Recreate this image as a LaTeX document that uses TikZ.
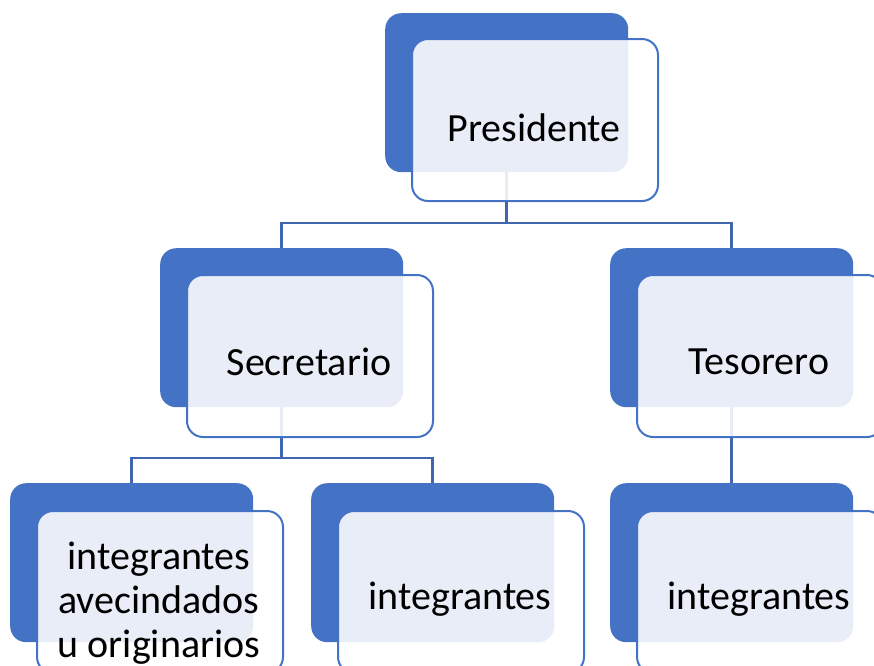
\documentclass[tikz,border=0pt]{standalone}
\usepackage{fontspec}
\setmainfont{Carlito}
\definecolor{accent}{HTML}{4472C4}
\definecolor{conn}{HTML}{3F66AF}
\begin{document}
\begin{tikzpicture}[x=1pt,y=-1pt,
 backbox/.style={draw=none,fill=accent,rounded corners=16pt,minimum width=243pt,minimum height=159pt,inner sep=0pt,anchor=north west},
 frontbox/.style={draw=accent,line width=2pt,fill=white,fill opacity=0.88,rounded corners=16pt,minimum width=246pt,minimum height=162pt,inner sep=0pt,anchor=north west},
 lbl/.style={font=\fontsize{40}{44}\selectfont,align=center,inner sep=0pt,text=black},
 link/.style={draw=conn,line width=2.5pt}]
\useasboundingbox (0,0) rectangle (874,665);
\clip (0,0) rectangle (874,665);
% back boxes
\node[backbox] (pb) at (385,13) {};
\node[backbox] (sb) at (160,248) {};
\node[backbox] (tb) at (610,248) {};
\node[backbox] (c1b) at (10,483) {};
\node[backbox] (c2b) at (311,483) {};
\node[backbox] (c3b) at (610,483) {};
% connectors
\coordinate (j1) at (pb.south |- 0,223);
\coordinate (j2) at (sb.south |- 0,458);
\draw[link] (pb.south) -- (j1) -| (sb.north);
\draw[link] (j1) -| (tb.north);
\draw[link] (sb.south) -- (j2) -| (c1b.north);
\draw[link] (j2) -| (c2b.north);
\draw[link] (tb.south) -- (c3b.north);
% front boxes
\node[frontbox] (pf) at (411,38) {};
\node[frontbox] (sf) at (186,274) {};
\node[frontbox] (tf) at (636,274) {};
\node[frontbox] (c1f) at (36,510) {};
\node[frontbox] (c2f) at (337,510) {};
\node[frontbox] (c3f) at (636,510) {};
% labels
\node[lbl] (pt) at (534,128) {Presidente};
\node[lbl] (st) at (309,362) {Secretario};
\node[lbl] (tt) at (759,362) {Tesorero};
\node[lbl] (c1t) at (159,603) {integrantes\\avecindados\\u originarios};
\node[lbl] (c2t) at (460,599) {integrantes};
\node[lbl] (c3t) at (759,599) {integrantes};
\end{tikzpicture}
\end{document}
